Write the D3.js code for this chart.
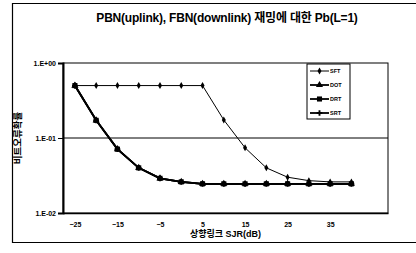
<!DOCTYPE html>
<html>
<head>
<meta charset="utf-8">
<script src="https://cdn.jsdelivr.net/npm/d3@7"></script>
<style>
  body { margin: 0; background: #fff; }
  text { font-family: "Liberation Sans", Arial, "Noto Sans CJK KR", sans-serif; font-weight: bold; fill: #000; }
</style>
</head>
<body>
<div id="chart-area"></div>
<script>
// data
var sjr = [-25, -20, -15, -10, -5, 0, 5, 10, 15, 20, 25, 30, 35, 40];
var sft = [0.5, 0.5, 0.5, 0.5, 0.5, 0.5, 0.5, 0.174, 0.074, 0.040, 0.030, 0.027, 0.026, 0.026];
var dot = [0.5, 0.172, 0.071, 0.040, 0.029, 0.026, 0.0245, 0.0245, 0.0245, 0.0245, 0.0245, 0.0245, 0.0245, 0.0245];
var drt = [0.5, 0.172, 0.071, 0.040, 0.029, 0.026, 0.0245, 0.0245, 0.0245, 0.0245, 0.0245, 0.0245, 0.0245, 0.0245];
var srt = [0.5, 0.172, 0.071, 0.040, 0.029, 0.026, 0.0245, 0.0245, 0.0245, 0.0245, 0.0245, 0.0245, 0.0245, 0.0245];
var seriesNames = ["SFT", "DOT", "DRT", "SRT"];
var xTicks = [-25, -15, -5, 5, 15, 25, 35];
var yTicks = [1, 0.1, 0.01];
var yTickLabels = ["1.E+00", "1.E-01", "1.E-02"];

var W = 416, H = 253;
var margin = { left: 63, right: 28, top: 63, bottom: 40 };
var width = W - margin.left - margin.right,
    height = H - margin.top - margin.bottom;

var svg = d3.select("#chart-area")
    .append("svg")
    .attr("width", W)
    .attr("height", H);

// outer frame (right side runs off the page)
svg.append("path")
    .attr("d", "M420,3.5 H12.5 V242.5 H420")
    .attr("fill", "none")
    .attr("stroke", "#000")
    .attr("stroke-width", 1.2);

// title
svg.append("text")
    .attr("x", 227)
    .attr("y", 22)
    .attr("text-anchor", "middle")
    .attr("font-size", "12px")
    .attr("letter-spacing", "-0.2px")
    .text("PBN(uplink), FBN(downlink) 재밍에 대한 Pb(L=1)");

var g = svg.append("g")
    .attr("transform", "translate(" + margin.left + ", " + margin.top + ")");

// X Scale
var x = d3.scaleLinear()
    .domain([-27.8, 48.6])
    .range([0, width]);

// Y Scale
var y = d3.scaleLog()
    .domain([0.01, 1])
    .range([height, 0]);

// plot area box
g.append("rect")
    .attr("x", 0).attr("y", 0)
    .attr("width", width).attr("height", height)
    .attr("fill", "none")
    .attr("stroke", "#000")
    .attr("stroke-width", 1);

// grid line
g.append("line")
    .attr("x1", 0).attr("x2", width)
    .attr("y1", y(0.1)).attr("y2", y(0.1))
    .attr("stroke", "#000")
    .attr("stroke-width", 1);

// Y Axis
var yAxisCall = d3.axisLeft(y)
    .tickValues(yTicks)
    .tickSize(5)
    .tickPadding(2)
    .tickFormat(function(d, i){ return yTickLabels[i]; });

var yAxis = g.append("g")
    .attr("class", "y axis")
    .call(yAxisCall);
yAxis.select(".domain").attr("stroke-width", 2);
yAxis.selectAll("text").attr("font-size", "7px").attr("font-family", null);

// X Axis
var xAxisCall = d3.axisBottom(x)
    .tickValues(xTicks)
    .tickSize(0)
    .tickPadding(9);

var xAxis = g.append("g")
    .attr("class", "x axis")
    .attr("transform", "translate(0," + height + ")")
    .call(xAxisCall);
xAxis.select(".domain").attr("stroke-width", 1.5);
xAxis.selectAll("text").attr("font-size", "7px").attr("font-family", null);

// Labels
g.append("text")
    .attr("x", width / 2)
    .attr("y", height + 24)
    .attr("font-size", "9px")
    .attr("text-anchor", "middle")
    .text("상향링크 SJR(dB)");

svg.append("text")
    .attr("transform", "translate(21," + (margin.top + y(0.1)) + ") rotate(-90)")
    .attr("font-size", "9.5px")
    .attr("text-anchor", "middle")
    .text("비트오류확률");

// series
var series = [
    { name: "SFT", values: sft, width: 1, shape: d3.symbolDiamond, size: 14 },
    { name: "DOT", values: dot, width: 1.8, shape: d3.symbolTriangle, size: 22 },
    { name: "DRT", values: drt, width: 1.8, shape: d3.symbolSquare, size: 26 },
    { name: "SRT", values: srt, width: 1.8, shape: d3.symbolCross, size: 18 }
];

var line = d3.line()
    .x(function(d){ return x(d[0]); })
    .y(function(d){ return y(d[1]); });

series.forEach(function(s){
    var pts = sjr.map(function(v, i){ return [v, s.values[i]]; });
    g.append("path")
        .datum(pts)
        .attr("fill", "none")
        .attr("stroke", "#000")
        .attr("stroke-width", s.width)
        .attr("d", line);
    g.selectAll(null)
        .data(pts)
        .enter()
        .append("path")
        .attr("transform", function(d){ return "translate(" + x(d[0]) + "," + y(d[1]) + ")"; })
        .attr("d", d3.symbol().type(s.shape).size(s.size))
        .attr("fill", "#000");
});

// legend
var legend = svg.append("g")
    .attr("transform", "translate(307,64)");
legend.append("rect")
    .attr("width", 43).attr("height", 55)
    .attr("fill", "#fff")
    .attr("stroke", "#000")
    .attr("stroke-width", 1);

series.forEach(function(s, i){
    var row = legend.append("g")
        .attr("transform", "translate(0," + (7 + i * 14) + ")");
    row.append("line")
        .attr("x1", 3).attr("x2", 22)
        .attr("stroke", "#000")
        .attr("stroke-width", s.width);
    row.append("path")
        .attr("transform", "translate(12.5,0)")
        .attr("d", d3.symbol().type(s.shape).size(s.size))
        .attr("fill", "#000");
    row.append("text")
        .attr("x", 23)
        .attr("y", 2)
        .attr("font-size", "5.5px")
        .text(seriesNames[i]);
});
</script>
</body>
</html>
